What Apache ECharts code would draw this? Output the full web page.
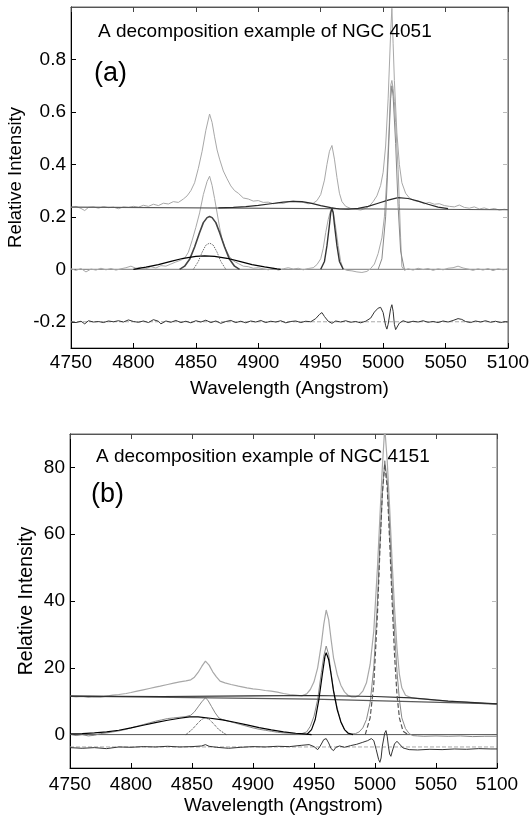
<!DOCTYPE html>
<html>
<head>
<meta charset="utf-8">
<script src="https://cdn.jsdelivr.net/npm/echarts@6/dist/echarts.min.js"></script>
<style>
  html, body { margin: 0; padding: 0; background: #fff; }
  #chart { width: 531px; height: 815px; }
</style>
</head>
<body>
<div id="chart"></div>
<script>
// tick values
const xTicks = [4750, 4800, 4850, 4900, 4950, 5000, 5050, 5100];
const yTicksA = [-0.2, 0, 0.2, 0.4, 0.6, 0.8];
const yTicksB = [0, 20, 40, 60, 80];

// ---- panel (a): NGC 4051 ----
// observed spectrum, shifted up
const aObs = [[4750,0.236],[4754,0.240],[4758,0.232],[4761,0.224],[4764,0.236],[4768,0.238],[4772,0.233],[4776,0.239],[4780,0.235],[4784,0.237],[4788,0.231],[4792,0.238],[4796,0.236],[4800,0.240],[4804,0.237],[4808,0.244],[4812,0.240],[4816,0.248],[4820,0.243],[4824,0.252],[4828,0.249],[4832,0.258],[4836,0.255],[4840,0.268],[4843,0.280],[4846,0.300],[4849,0.330],[4852,0.385],[4855,0.450],[4858,0.530],[4861,0.592],[4863,0.560],[4865,0.505],[4867,0.455],[4869,0.420],[4872,0.375],[4875,0.345],[4878,0.318],[4881,0.300],[4884,0.290],[4888,0.272],[4892,0.268],[4896,0.260],[4900,0.262],[4904,0.255],[4908,0.256],[4912,0.250],[4916,0.253],[4920,0.251],[4924,0.258],[4928,0.260],[4932,0.257],[4936,0.255],[4940,0.250],[4944,0.252],[4947,0.262],[4950,0.285],[4953,0.340],[4955,0.400],[4957,0.450],[4959,0.472],[4961,0.420],[4963,0.350],[4965,0.290],[4967,0.258],[4970,0.240],[4974,0.232],[4978,0.229],[4982,0.226],[4986,0.232],[4989,0.242],[4992,0.258],[4995,0.280],[4998,0.320],[5000,0.370],[5002,0.470],[5004,0.650],[5006,0.900],[5007,0.995],[5008,0.860],[5009,0.720],[5011,0.520],[5013,0.400],[5015,0.330],[5018,0.290],[5021,0.272],[5025,0.262],[5029,0.258],[5033,0.250],[5037,0.255],[5041,0.248],[5045,0.250],[5049,0.243],[5053,0.240],[5057,0.238],[5061,0.245],[5065,0.236],[5069,0.233],[5073,0.238],[5077,0.230],[5081,0.234],[5085,0.228],[5089,0.232],[5093,0.226],[5097,0.229],[5100,0.227]];
const aCont = [[4750,0.237],[5100,0.227]];
const aFe = [[4868,0.234],[4880,0.236],[4890,0.239],[4900,0.244],[4910,0.250],[4920,0.256],[4928,0.259],[4935,0.258],[4942,0.252],[4950,0.243],[4958,0.235],[4965,0.230],[4972,0.229],[4980,0.232],[4988,0.240],[4996,0.252],[5004,0.264],[5012,0.273],[5020,0.270],[5028,0.260],[5036,0.248],[5044,0.237],[5052,0.231]];
// continuum-subtracted spectrum
const aSub = [[4750,0.002],[4754,-0.004],[4758,0.003],[4762,-0.010],[4766,0.001],[4770,-0.003],[4774,0.004],[4778,-0.002],[4782,0.003],[4786,-0.003],[4790,0.002],[4794,0.006],[4798,0.012],[4802,0.004],[4806,0.008],[4810,0.002],[4814,0.010],[4818,0.005],[4822,0.014],[4826,0.012],[4830,0.020],[4834,0.028],[4838,0.035],[4841,0.042],[4844,0.065],[4847,0.110],[4850,0.160],[4853,0.215],[4856,0.285],[4859,0.335],[4861,0.355],[4863,0.320],[4865,0.270],[4867,0.215],[4869,0.160],[4871,0.115],[4874,0.075],[4877,0.048],[4880,0.032],[4884,0.022],[4888,0.012],[4892,0.010],[4896,0.004],[4900,0.006],[4904,0.002],[4908,-0.002],[4912,0.004],[4916,-0.003],[4920,0.002],[4924,0.006],[4928,0.001],[4932,0.004],[4936,-0.002],[4940,0.003],[4944,0.006],[4947,0.018],[4950,0.040],[4952,0.080],[4954,0.140],[4956,0.190],[4958,0.225],[4959,0.232],[4960,0.220],[4962,0.160],[4964,0.090],[4966,0.030],[4968,0.002],[4971,-0.004],[4975,-0.006],[4979,-0.010],[4983,-0.012],[4987,-0.008],[4990,0.003],[4993,0.020],[4996,0.060],[4999,0.120],[5001,0.200],[5003,0.350],[5005,0.560],[5006,0.700],[5007,0.720],[5008,0.690],[5009,0.640],[5010,0.560],[5012,0.380],[5013,0.250],[5014,0.120],[5015,0.010],[5017,-0.004],[5020,0.002],[5024,-0.003],[5028,0.004],[5032,-0.001],[5036,0.003],[5040,-0.004],[5044,0.002],[5048,-0.002],[5052,0.004],[5056,0.006],[5060,0.012],[5064,0.005],[5068,0.001],[5072,-0.004],[5076,0.002],[5080,-0.003],[5084,0.003],[5088,-0.005],[5092,0.002],[5096,-0.002],[5100,0.001]];
const aHbN = [[4837,0],[4841,0.012],[4845,0.038],[4849,0.085],[4853,0.140],[4856,0.178],[4859,0.197],[4861,0.201],[4863,0.197],[4866,0.178],[4869,0.140],[4873,0.085],[4877,0.038],[4881,0.012],[4885,0]];
const aHbB = [[4800,0],[4810,0.008],[4820,0.018],[4830,0.030],[4840,0.042],[4850,0.049],[4857,0.051],[4865,0.049],[4875,0.042],[4885,0.030],[4895,0.018],[4905,0.009],[4915,0.002],[4918,0]];
const aHbDot = [[4848,0],[4852,0.030],[4855,0.065],[4858,0.092],[4861,0.100],[4864,0.092],[4867,0.065],[4870,0.030],[4874,0]];
const aO4959 = [[4950,0],[4953,0.030],[4955,0.090],[4957,0.170],[4958,0.215],[4959,0.233],[4960,0.215],[4961,0.170],[4963,0.090],[4965,0.030],[4968,0]];
const aO5007 = [[4996,0],[4999,0.040],[5002,0.200],[5004,0.420],[5006,0.650],[5007,0.700],[5008,0.660],[5010,0.480],[5012,0.240],[5014,0.070],[5017,0]];
const aZero = [[4750,0],[5100,0]];
const aResid = [[4750,-0.200],[4754,-0.203],[4758,-0.198],[4761,-0.208],[4764,-0.196],[4768,-0.201],[4772,-0.199],[4776,-0.203],[4780,-0.197],[4784,-0.200],[4788,-0.196],[4792,-0.201],[4796,-0.193],[4800,-0.199],[4804,-0.202],[4808,-0.197],[4812,-0.203],[4816,-0.192],[4820,-0.198],[4822,-0.208],[4826,-0.197],[4830,-0.202],[4834,-0.195],[4838,-0.203],[4842,-0.198],[4846,-0.204],[4850,-0.196],[4854,-0.201],[4858,-0.194],[4862,-0.203],[4866,-0.197],[4870,-0.206],[4874,-0.199],[4878,-0.195],[4882,-0.203],[4886,-0.198],[4890,-0.204],[4894,-0.197],[4898,-0.201],[4902,-0.195],[4906,-0.203],[4910,-0.198],[4914,-0.201],[4918,-0.196],[4922,-0.204],[4926,-0.199],[4930,-0.197],[4934,-0.203],[4938,-0.198],[4942,-0.200],[4946,-0.188],[4949,-0.172],[4951,-0.165],[4953,-0.180],[4956,-0.198],[4959,-0.206],[4962,-0.197],[4966,-0.201],[4970,-0.196],[4974,-0.202],[4978,-0.199],[4982,-0.204],[4986,-0.198],[4990,-0.186],[4993,-0.163],[4996,-0.148],[4998,-0.145],[5000,-0.165],[5002,-0.215],[5003,-0.228],[5004,-0.210],[5006,-0.150],[5007,-0.135],[5008,-0.160],[5009,-0.210],[5010,-0.230],[5011,-0.226],[5013,-0.205],[5016,-0.196],[5020,-0.203],[5024,-0.198],[5028,-0.201],[5032,-0.196],[5036,-0.202],[5040,-0.199],[5044,-0.203],[5048,-0.197],[5052,-0.201],[5056,-0.195],[5060,-0.188],[5063,-0.191],[5066,-0.199],[5070,-0.203],[5074,-0.197],[5078,-0.201],[5082,-0.196],[5086,-0.202],[5090,-0.198],[5094,-0.203],[5098,-0.199],[5100,-0.201]];
const aResidRef = [[4750,-0.2],[5100,-0.2]];

// ---- panel (b): NGC 4151 ----
const bObs = [[4750,11.5],[4755,11.3],[4760,11.4],[4765,11.1],[4770,11.3],[4775,11.2],[4780,11.5],[4785,11.8],[4790,12.0],[4796,12.3],[4800,12.6],[4805,13.0],[4810,13.4],[4815,13.8],[4820,14.2],[4824,14.5],[4830,15.0],[4835,15.4],[4840,15.8],[4845,16.1],[4849,16.4],[4852,17.2],[4855,18.6],[4858,20.4],[4861,22.0],[4864,20.8],[4867,18.8],[4870,17.3],[4873,16.0],[4877,15.5],[4882,15.0],[4888,14.5],[4895,14.0],[4900,13.7],[4905,13.5],[4910,13.2],[4915,13.0],[4920,12.7],[4925,12.3],[4930,12.0],[4935,11.8],[4940,11.6],[4944,12.2],[4947,13.5],[4950,15.8],[4953,20.0],[4956,27.0],[4958,33.0],[4960,37.3],[4962,34.5],[4964,28.5],[4966,23.0],[4969,18.0],[4972,14.8],[4975,12.8],[4978,11.7],[4981,11.3],[4984,11.3],[4987,11.8],[4990,13.0],[4993,15.5],[4996,21.0],[4999,31.0],[5002,50.0],[5004,65.0],[5006,80.0],[5008,92.0],[5010,82.0],[5012,68.0],[5014,52.0],[5016,38.0],[5018,26.0],[5020,18.0],[5022,14.0],[5025,11.8],[5030,11.0],[5035,10.8],[5040,10.7],[5045,10.5],[5050,10.3],[5055,10.2],[5060,10.0],[5065,9.9],[5070,9.8],[5075,9.7],[5080,9.5],[5085,9.4],[5090,9.3],[5095,9.2],[5100,9.1]];
const bCont = [[4750,11.5],[4850,11.1],[4950,10.6],[5030,9.9],[5100,9.2]];
const bFe = [[4750,11.5],[4826,11.4],[4900,11.6],[4950,11.7],[5000,11.4],[5030,11.0],[5060,10.0],[5100,9.2]];
const bSub = [[4750,0.1],[4755,-0.3],[4760,0.0],[4765,-0.4],[4770,-0.2],[4775,0.3],[4780,0.5],[4785,0.8],[4790,1.1],[4795,1.5],[4800,2.0],[4805,2.5],[4810,3.0],[4815,3.5],[4820,4.0],[4825,4.4],[4830,4.8],[4835,5.0],[4840,5.2],[4845,5.4],[4849,5.8],[4852,6.8],[4855,8.3],[4858,9.8],[4861,11.0],[4863,10.3],[4866,8.4],[4869,6.5],[4872,5.0],[4875,4.5],[4880,4.0],[4885,3.5],[4890,3.0],[4895,2.5],[4900,2.0],[4905,1.6],[4910,1.3],[4915,1.0],[4920,0.7],[4925,0.5],[4930,0.4],[4935,0.3],[4940,0.3],[4944,0.8],[4947,2.5],[4950,5.5],[4953,10.5],[4956,18.5],[4958,23.5],[4960,26.5],[4962,24.0],[4964,18.5],[4966,13.5],[4969,8.0],[4972,4.0],[4975,1.5],[4978,0.5],[4981,0.2],[4984,0.3],[4987,0.8],[4990,2.0],[4993,4.5],[4996,9.5],[4999,20.0],[5002,40.0],[5004,57.0],[5006,72.0],[5008,82.0],[5010,76.0],[5012,62.0],[5014,45.0],[5016,31.0],[5018,19.0],[5020,10.5],[5022,5.0],[5025,1.8],[5028,0.3],[5031,-0.3],[5035,-0.4],[5040,-0.5],[5050,-0.4],[5060,-0.5],[5070,-0.4],[5080,-0.6],[5090,-0.5],[5100,-0.5]];
const bHbB = [[4750,0.2],[4760,0.3],[4770,0.5],[4780,0.8],[4790,1.3],[4800,2.0],[4810,2.8],[4820,3.6],[4830,4.3],[4840,4.9],[4848,5.3],[4855,5.3],[4865,4.9],[4875,4.4],[4885,3.7],[4895,2.9],[4905,2.1],[4915,1.4],[4925,0.8],[4935,0.4],[4942,0.2],[4948,0]];
const bHbDot = [[4845,0],[4850,1.5],[4855,3.5],[4858,4.6],[4861,5.0],[4864,4.6],[4867,3.5],[4872,1.5],[4878,0]];
const bO4959 = [[4944,0],[4948,1.5],[4951,4.5],[4954,10.5],[4957,18.5],[4959,23.5],[4960,24.5],[4962,22.5],[4964,18.0],[4966,13.0],[4969,7.5],[4972,3.8],[4975,1.5],[4978,0.4],[4982,0]];
const bO5007 = [[4992,0],[4996,5.0],[4999,15.0],[5002,36.0],[5004,55.0],[5006,72.0],[5008,81.0],[5010,74.0],[5012,58.0],[5014,40.0],[5016,24.0],[5018,12.0],[5020,5.0],[5023,1.0],[5027,0]];
const bZero = [[4750,0],[5100,0]];
const bResid = [[4750,-3.9],[4760,-4.1],[4770,-3.9],[4780,-4.2],[4790,-3.7],[4800,-3.8],[4810,-3.6],[4820,-3.7],[4830,-3.5],[4840,-3.7],[4850,-3.6],[4858,-3.4],[4861,-3.0],[4864,-3.5],[4870,-3.8],[4880,-4.1],[4890,-3.8],[4900,-3.6],[4910,-3.7],[4920,-3.5],[4930,-3.6],[4940,-3.2],[4946,-3.0],[4950,-3.6],[4953,-4.5],[4955,-3.5],[4958,-1.5],[4960,-1.2],[4962,-2.5],[4964,-4.2],[4966,-4.8],[4968,-3.8],[4971,-3.4],[4975,-3.8],[4980,-3.3],[4985,-2.9],[4990,-2.3],[4994,-1.8],[4997,-1.2],[4999,-1.8],[5001,-4.5],[5003,-7.5],[5004,-8.3],[5005,-7.0],[5006,-3.5],[5008,0.5],[5009,1.2],[5010,-0.5],[5011,-3.5],[5012,-5.8],[5013,-6.5],[5014,-5.2],[5016,-2.8],[5018,-2.0],[5020,-2.8],[5023,-4.0],[5028,-4.5],[5035,-4.6],[5045,-4.4],[5055,-4.5],[5065,-4.3],[5075,-4.4],[5085,-4.2],[5095,-4.3],[5100,-4.3]];
const bResidRef = [[4750,-3.7],[5100,-3.7]];

const FONT = '"Liberation Sans", Arial, sans-serif';
const LIGHT = '#a8a8a8';
const DARK = '#2a2a2a';
const MID = '#5a5a5a';

function xAxes(gi, nameGap, labelMargin) {
    return [{
        type: 'value', gridIndex: gi, min: xTicks[0], max: xTicks[xTicks.length - 1], interval: 50,
        name: 'Wavelength (Angstrom)', nameLocation: 'middle', nameGap: nameGap, nameMoveOverlap: false,
        nameTextStyle: { fontSize: 19, color: '#000', fontFamily: FONT },
        axisLine: { onZero: false, lineStyle: { color: '#000', width: 1 } },
        axisTick: { inside: true, length: 5, lineStyle: { color: '#000' } },
        axisLabel: { fontSize: 19, color: '#000', margin: labelMargin, fontFamily: FONT,
                     formatter: v => String(v) },
        splitLine: { show: false }
    }, {
        type: 'value', gridIndex: gi, position: 'top', min: xTicks[0], max: xTicks[xTicks.length - 1], interval: 50,
        axisLine: { onZero: false, lineStyle: { color: '#555' } },
        axisTick: { inside: true, length: 5, lineStyle: { color: '#444' } },
        axisLabel: { show: false },
        splitLine: { show: false }
    }];
}

function yAxes(gi, min, max, ticks, nameGap, nameSize) {
    return [{
        type: 'value', gridIndex: gi, min: min, max: max,
        name: 'Relative Intensity', nameLocation: 'middle', nameGap: nameGap, nameMoveOverlap: false,
        nameTextStyle: { fontSize: nameSize, color: '#000', fontFamily: FONT },
        axisLine: { show: true, onZero: false, lineStyle: { color: '#000' } },
        axisTick: { inside: true, length: 5, customValues: ticks, lineStyle: { color: '#000' } },
        axisLabel: { fontSize: 19, color: '#000', margin: 5, customValues: ticks, fontFamily: FONT },
        splitLine: { show: false }
    }, {
        type: 'value', gridIndex: gi, position: 'right', min: min, max: max,
        axisLine: { show: true, onZero: false, lineStyle: { color: '#777' } },
        axisTick: { inside: true, length: 5, customValues: ticks, lineStyle: { color: '#bbb' } },
        axisLabel: { show: false },
        splitLine: { show: false }
    }];
}

function line(data, xi, yi, color, width, type, z) {
    return {
        type: 'line', data: data, xAxisIndex: xi, yAxisIndex: yi,
        showSymbol: false, symbol: 'none', silent: true, z: z || 2,
        lineStyle: { color: color, width: width, type: type || 'solid' }
    };
}

const chart = echarts.init(document.getElementById('chart'));
chart.setOption({
    animation: false,
    backgroundColor: '#fff',
    title: [
        { text: 'A decomposition example of NGC 4051', left: 98, top: 22, padding: 0,
          textStyle: { fontSize: 19, fontWeight: 'normal', color: '#000', fontFamily: FONT } },
        { text: '(a)', left: 94, top: 60, padding: 0,
          textStyle: { fontSize: 27, fontWeight: 'normal', color: '#000', fontFamily: FONT } },
        { text: 'A decomposition example of NGC 4151', left: 96, top: 447, padding: 0,
          textStyle: { fontSize: 19, fontWeight: 'normal', color: '#000', fontFamily: FONT } },
        { text: '(b)', left: 91, top: 481, padding: 0,
          textStyle: { fontSize: 27, fontWeight: 'normal', color: '#000', fontFamily: FONT } }
    ],
    grid: [
        { left: 71, top: 7, width: 437, height: 341, show: true, borderColor: '#666', borderWidth: 1,
          backgroundColor: '#fff', outerBoundsMode: 'none' },
        { left: 70, top: 434, width: 427, height: 334, show: true, borderColor: '#666', borderWidth: 1,
          backgroundColor: '#fff', outerBoundsMode: 'none' }
    ],
    xAxis: xAxes(0, 31, 5).concat(xAxes(1, 28, 7)),
    yAxis: yAxes(0, -0.3, 1.0, yTicksA, 46, 18.5).concat(yAxes(1, -10, 90, yTicksB, 33, 19.5)),
    series: [
        // panel (a)
        line(aZero, 0, 0, '#777', 1),
        line(aResidRef, 0, 0, '#aaa', 1, 'dashed'),
        line(aObs, 0, 0, LIGHT, 1),
        line(aSub, 0, 0, LIGHT, 1),
        line(aCont, 0, 0, MID, 1.2, 'solid', 3),
        line(aFe, 0, 0, DARK, 1.2, 'solid', 3),
        line(aHbN, 0, 0, '#444', 1.6, 'solid', 3),
        line(aHbB, 0, 0, '#000', 1.2, 'solid', 3),
        line(aHbDot, 0, 0, '#555', 1, 'dotted', 3),
        line(aO4959, 0, 0, '#333', 1.4, 'solid', 3),
        line(aO5007, 0, 0, '#888', 1, 'solid', 3),
        line(aResid, 0, 0, '#333', 1, 'solid', 3),
        // panel (b)
        line(bZero, 2, 2, '#555', 1),
        line(bResidRef, 2, 2, '#aaa', 1, 'dashed'),
        line(bObs, 2, 2, LIGHT, 1.2),
        line(bSub, 2, 2, '#888', 1),
        line(bCont, 2, 2, MID, 1.2, 'solid', 3),
        line(bFe, 2, 2, DARK, 1.2, 'solid', 3),
        line(bHbB, 2, 2, '#000', 1.2, 'solid', 3),
        line(bHbDot, 2, 2, '#333', 1, 'dotted', 3),
        line(bO4959, 2, 2, '#000', 1.2, 'solid', 3),
        line(bO5007, 2, 2, '#555', 1.2, 'dashed', 3),
        line(bResid, 2, 2, '#333', 1, 'solid', 3)
    ]
});
</script>
</body>
</html>
